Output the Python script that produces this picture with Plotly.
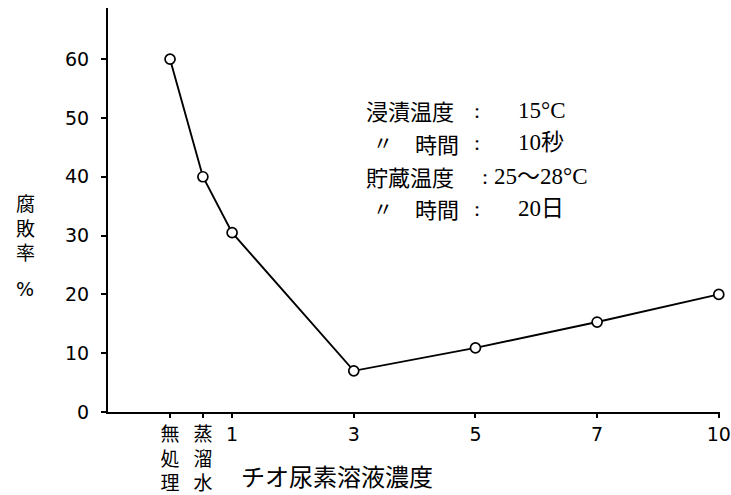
import plotly.graph_objects as go

# ---- data ----
categories = ["無<br>処<br>理", "蒸<br>溜<br>水", "1", "3", "5", "7", "10"]
x_pos = [-0.51, -0.24, 0, 1, 2, 3, 4]          # category positions on the axis
decay_rate = [60, 40, 30.5, 7, 10.9, 15.3, 20]  # 腐敗率 %
y_ticks = [0, 10, 20, 30, 40, 50, 60]

cond_labels = ["浸漬温度", "〃", "貯蔵温度", "〃"]
cond_sub = ["", "時間", "", "時間"]
cond_values = ["15°C", "10秒", "25〜28°C", "20日"]

# ---- layout constants ----
W, H = 731, 495
L, R, T, B = 108, 11, 8, 83
pw, ph = W - L - R, H - T - B

def px(x):
    return (x - L) / pw

def py(y):
    return (H - B - y) / ph

fig = go.Figure()
fig.add_trace(go.Scatter(
    x=x_pos, y=decay_rate, mode="lines+markers",
    line=dict(color="black", width=1.9),
    marker=dict(symbol="circle", size=10, color="white",
                line=dict(color="black", width=1.7)),
    showlegend=False, hoverinfo="skip", cliponaxis=False,
))

CJK = "Noto Sans CJK JP"
SERIF = "Liberation Serif, Noto Sans CJK JP"
HAND = "DejaVu Sans, Noto Sans CJK JP"

ann = []
# condition text block
rows_y = [110, 143, 176, 208]
for i in range(4):
    lab = cond_labels[i]
    if lab == "〃":
        ann.append(dict(x=px(383), y=py(rows_y[i]), text=lab, xanchor="center",
                        font=dict(size=20, family=CJK)))
        ann.append(dict(x=px(413), y=py(rows_y[i]), text=cond_sub[i], xanchor="left",
                        font=dict(size=22, family=CJK)))
    else:
        ann.append(dict(x=px(364), y=py(rows_y[i]), text=lab, xanchor="left",
                        font=dict(size=22, family=CJK)))
    colon_x = 485 if i == 2 else 477
    ann.append(dict(x=px(colon_x), y=py(rows_y[i]), text=":", xanchor="center",
                    font=dict(size=22, family=SERIF)))
    val_x = 492 if i == 2 else 516
    ann.append(dict(x=px(val_x), y=py(rows_y[i]), text=cond_values[i], xanchor="left",
                    font=dict(size=23, family=SERIF)))

# y-axis title
ann.append(dict(x=px(25), y=py(227), text="腐<br>敗<br>率", xanchor="center",
                font=dict(size=19, family=CJK)))
ann.append(dict(x=px(25), y=py(289), text="%", xanchor="center",
                font=dict(size=19, family=HAND)))
# x-axis title
ann.append(dict(x=px(337), y=py(476), text="チオ尿素溶液濃度", xanchor="center",
                font=dict(size=24, family=CJK)))

for a in ann:
    a.update(xref="paper", yref="paper", yanchor="middle", showarrow=False,
             font_color="black")

fig.update_layout(
    width=W, height=H,
    margin=dict(l=L, r=R, t=T, b=B, autoexpand=False),
    paper_bgcolor="white", plot_bgcolor="white",
    annotations=ann,
    xaxis=dict(
        range=[-1.02, 4.01], tickmode="array", tickvals=x_pos, ticktext=categories,
        showline=True, linecolor="black", linewidth=2.2,
        ticks="outside", ticklen=4, tickwidth=1.5, tickcolor="black",
        showgrid=False, zeroline=False, automargin=False,
        tickfont=dict(size=19, family=HAND, color="black"),
    ),
    yaxis=dict(
        range=[0, 68.7], tickmode="array", tickvals=y_ticks,
        showline=True, linecolor="black", linewidth=2.2,
        ticks="outside", ticklen=5, tickwidth=1.5, tickcolor="black",
        ticklabelstandoff=8,
        showgrid=False, zeroline=False, automargin=False,
        tickfont=dict(size=19, family=HAND, color="black"),
    ),
)

fig.write_html("out.html", config={"displayModeBar": False},
               post_script="document.body.style.margin='0';")
